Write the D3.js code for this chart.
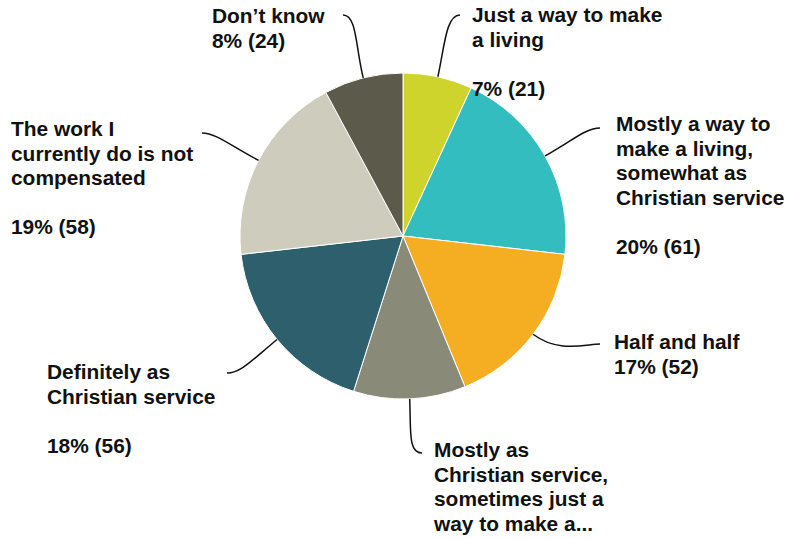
<!DOCTYPE html>
<html>
<head>
<meta charset="utf-8">
<script src="https://cdnjs.cloudflare.com/ajax/libs/d3/7.8.5/d3.min.js"></script>
<style>
  body { margin: 0; background: #fff; }
  svg text { font-family: "Liberation Sans", Arial, sans-serif; font-weight: bold; font-size: 20.9px; fill: #111; }
</style>
</head>
<body>
<svg id="chart" width="787" height="539"></svg>
<script>
// slice names (already wrapped the way the chart shows them)
var categories = [
    ["Just a way to make", "a living"],
    ["Mostly a way to", "make a living,", "somewhat as", "Christian service"],
    ["Half and half"],
    ["Mostly as", "Christian service,", "sometimes just a", "way to make a..."],
    ["Definitely as", "Christian service"],
    ["The work I", "currently do is not", "compensated"],
    ["Don\u2019t know"]
];
var counts = [21, 61, 52, 34, 56, 58, 24];
var colors = ["#cfd42c", "#33bdbf", "#f5ae22", "#8a8a79", "#2e5f6d", "#cdccbd", "#5c5a4b"];

// where each label sits: text corner, end of leader line, gap before percent?
var labelPos = [
    {x: 472, y: 22,  end: [460, 15],  gap: true,  pct: true},
    {x: 616, y: 131, end: [600, 128], gap: true,  pct: true},
    {x: 614, y: 349, end: [600, 344], gap: false, pct: true},
    {x: 434, y: 457, end: [422, 453], gap: false, pct: false},
    {x: 47,  y: 379, end: [227, 373], gap: true,  pct: true},
    {x: 11,  y: 136, end: [202, 133], gap: true,  pct: true},
    {x: 212, y: 23,  end: [343, 15],  gap: false, pct: true}
];

var cx = 403, cy = 236, radius = 163, lineH = 24.5;
var total = d3.sum(counts);

var svg = d3.select("#chart");

var pie = d3.pie().sort(null).value(d => d)(counts);
var arc = d3.arc().innerRadius(0).outerRadius(radius);

var g = svg.append("g").attr("transform", "translate(" + cx + "," + cy + ")");

g.selectAll("path.slice")
    .data(pie).enter()
    .append("path")
    .attr("class", "slice")
    .attr("d", arc)
    .attr("fill", (d, i) => colors[i])
    .attr("stroke", "#fff")
    .attr("stroke-width", 1);

// leader lines - start on the rim at the middle of the slice
function leader(d, i){
    var a = (d.startAngle + d.endAngle) / 2;
    var sx = cx + radius * Math.sin(a), sy = cy - radius * Math.cos(a);
    var c1x = cx + (radius + 32) * Math.sin(a), c1y = cy - (radius + 32) * Math.cos(a);
    var e = labelPos[i].end;
    var dir = e[0] > sx ? -1 : 1;
    var c2x = e[0] + dir * 14, c2y = e[1];
    return "M" + sx + "," + sy + " C" + c1x + "," + c1y + " " + c2x + "," + c2y + " " + e[0] + "," + e[1];
}

svg.append("g").selectAll("path")
    .data(pie).enter()
    .append("path")
    .attr("d", leader)
    .attr("fill", "none")
    .attr("stroke", "#111")
    .attr("stroke-width", 1.5);

// labels
var labels = svg.append("g").selectAll("text")
    .data(pie).enter()
    .append("text")
    .attr("x", (d, i) => labelPos[i].x)
    .attr("y", (d, i) => labelPos[i].y);

labels.each(function(d, i){
    var lines = categories[i].slice();
    var p = labelPos[i];
    if(p.pct){
        if(p.gap) lines.push("");
        lines.push(Math.round(d.value / total * 100) + "% (" + d.value + ")");
    }
    var t = d3.select(this);
    lines.forEach((l, k) => {
        t.append("tspan")
            .attr("x", p.x)
            .attr("y", p.y + k * lineH)
            .text(l);
    });
});
</script>
</body>
</html>
